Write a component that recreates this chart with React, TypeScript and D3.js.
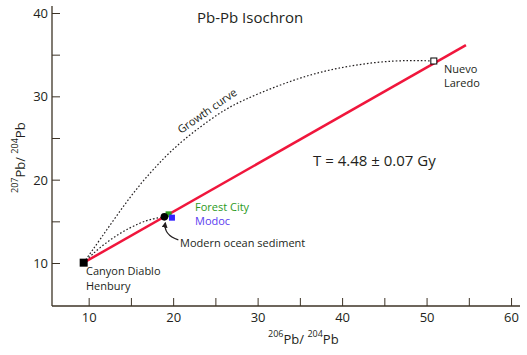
import React from "react";
import * as d3 from "d3";

const xTicks = [10, 15, 20, 25, 30, 35, 40, 45, 50, 55, 60];
const xLabels = [10, 20, 30, 40, 50, 60];
const yTicks = [10, 15, 20, 25, 30, 35, 40];
const yLabels = [10, 20, 30, 40];

// growth curve from Canyon Diablo to Nuevo Laredo
const growthX = [9.35, 11.3, 13.7, 16.0, 18.4, 20.8, 25.5, 28.2, 32.2, 36.2, 40.1, 44.1, 48.0, 50.8];
const growthY = [10.1, 12.9, 16.4, 19.5, 22.2, 24.6, 28.2, 29.6, 31.3, 32.7, 33.6, 34.2, 34.4, 34.3];
// curve from Canyon Diablo to modern ocean sediment
const sedX = [9.35, 11.3, 13.7, 16.0, 17.6, 18.9];
const sedY = [10.1, 12.0, 13.7, 14.9, 15.4, 15.6];
// isochron end points
const isoX = [9.35, 54.6];
const isoY = [10.1, 36.2];

const canyon = { x: 9.35, y: 10.1 };
const nuevo = { x: 50.8, y: 34.3 };
const sediment = { x: 18.9, y: 15.6 };
const forest = { x: 19.4, y: 15.9 };
const modoc = { x: 19.8, y: 15.5 };

const FONT = "'Open Sans', 'DejaVu Sans', sans-serif";
const INK = "#231f20";
const AXIS = "#3d3326";

export default function App() {
  const x = d3.scaleLinear().domain([5.6, 61]).range([52, 520]);
  const y = d3.scaleLinear().domain([4.9, 40.9]).range([306, 6]);
  const line = d3
    .line<[number, number]>()
    .x((d) => x(d[0]))
    .y((d) => y(d[1]))
    .curve(d3.curveBasis);
  const straight = d3
    .line<[number, number]>()
    .x((d) => x(d[0]))
    .y((d) => y(d[1]));
  const growth = growthX.map((v, i) => [v, growthY[i]] as [number, number]);
  const sed = sedX.map((v, i) => [v, sedY[i]] as [number, number]);
  const iso = isoX.map((v, i) => [v, isoY[i]] as [number, number]);

  const sx = x(sediment.x);
  const sy = y(sediment.y);

  return (
    <svg width={527} height={355} style={{ position: "absolute", left: 0, top: 0 }} fontFamily={FONT}>
      <rect width={527} height={355} fill="#fff" />
      <defs>
        <marker id="ah" viewBox="0 0 10 10" refX="8" refY="5" markerWidth="5" markerHeight="5" orient="auto">
          <path d="M0,0 L10,5 L0,10 z" fill={INK} />
        </marker>
      </defs>
      {/* axes */}
      <line x1={52} x2={52} y1={6} y2={306} stroke={AXIS} strokeWidth={1.3} />
      <line x1={52} x2={520} y1={306} y2={306} stroke={AXIS} strokeWidth={1.3} />
      {yTicks.map((t) => (
        <line key={"yt" + t} x1={52} x2={60} y1={y(t)} y2={y(t)} stroke={AXIS} strokeWidth={1} />
      ))}
      {xTicks.map((t) => (
        <line key={"xt" + t} x1={x(t)} x2={x(t)} y1={306} y2={298} stroke={AXIS} strokeWidth={1} />
      ))}
      {yLabels.map((t) => (
        <text key={"yl" + t} x={48} y={y(t) + 4.5} textAnchor="end" fontSize={13} fill={INK}>
          {t}
        </text>
      ))}
      {xLabels.map((t) => (
        <text key={"xl" + t} x={x(t)} y={322} textAnchor="middle" fontSize={13} fill={INK}>
          {t}
        </text>
      ))}
      {/* axis titles */}
      <text x={268} y={344} fontSize={13} fill={INK}>
        <tspan fontSize={9} dy={-7}>206</tspan>
        <tspan dy={7}>Pb/ </tspan>
        <tspan fontSize={9} dy={-7}>204</tspan>
        <tspan dy={7}>Pb</tspan>
      </text>
      <text transform="translate(25,193) rotate(-90)" fontSize={13} fill={INK}>
        <tspan fontSize={9} dy={-7}>207</tspan>
        <tspan dy={7}>Pb/ </tspan>
        <tspan fontSize={9} dy={-7}>204</tspan>
        <tspan dy={7}>Pb</tspan>
      </text>

      {/* curves */}
      <path d={line(growth) || ""} fill="none" stroke={INK} strokeWidth={1.2} strokeDasharray="1.6,2" />
      <path d={line(sed) || ""} fill="none" stroke={INK} strokeWidth={1.2} strokeDasharray="1.6,2" />
      <path d={straight(iso) || ""} fill="none" stroke="#f0163c" strokeWidth={2.5} />

      {/* points */}
      <rect x={x(canyon.x) - 4} y={y(canyon.y) - 4} width={8} height={8} fill="#000" />
      <rect x={x(nuevo.x) - 3} y={y(nuevo.y) - 3} width={6} height={6} fill="#fff" stroke="#000" strokeWidth={1} />
      <rect x={x(forest.x) - 3} y={y(forest.y) - 3} width={6} height={6} fill="#2c9a1c" />
      <rect x={x(modoc.x) - 3} y={y(modoc.y) - 3} width={6} height={6} fill="#3322ff" />
      <circle cx={sx} cy={sy} r={3.8} fill="#000" />

      {/* arrow */}
      <path d={`M${sx + 14},${sy + 23} Q${sx - 1},${sy + 18} ${sx + 1},${sy + 6}`} fill="none" stroke={INK} strokeWidth={1.2} markerEnd="url(#ah)" />

      {/* labels */}
      <text x={197} y={23} fontSize={15} fill={INK}>Pb-Pb Isochron</text>
      <text x={313} y={166} fontSize={15} fill={INK}>T = 4.48 ± 0.07 Gy</text>
      <text transform="translate(181,134) rotate(-35)" fontSize={11} fill={INK}>Growth curve</text>
      <text x={444} y={73} fontSize={11} fill={INK}>Nuevo</text>
      <text x={444} y={87} fontSize={11} fill={INK}>Laredo</text>
      <text x={86} y={275} fontSize={11} fill={INK}>Canyon Diablo</text>
      <text x={86} y={290} fontSize={11} fill={INK}>Henbury</text>
      <text x={195} y={211} fontSize={11} fill="#2c9a1c">Forest City</text>
      <text x={195} y={225} fontSize={11} fill="#5a3cf0">Modoc</text>
      <text x={180} y={247} fontSize={11} fill={INK}>Modern ocean sediment</text>
    </svg>
  );
}
